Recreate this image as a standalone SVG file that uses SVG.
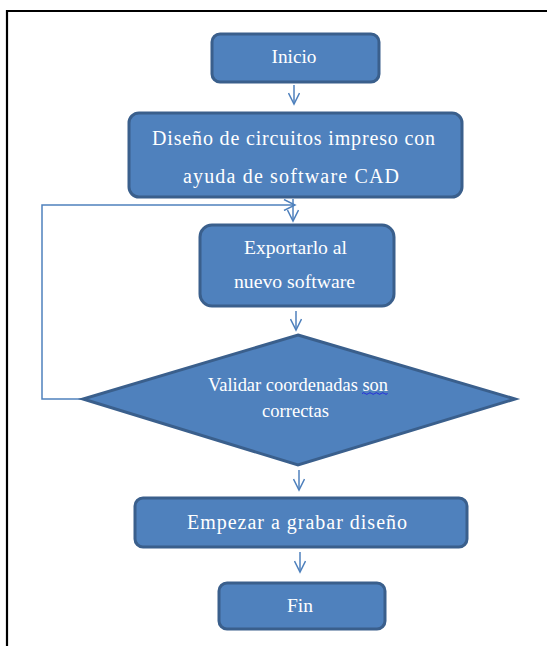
<svg xmlns="http://www.w3.org/2000/svg" width="547" height="646" viewBox="0 0 547 646">
<defs>
<style>
.node{fill:#4F81BD;stroke:#3A5F8C;stroke-width:3}
.t{font-family:"Liberation Serif","Times New Roman",serif;font-size:18px;fill:#FFFFFF;text-anchor:middle}
.big{font-size:20px}
.c{fill:none;stroke:#4F81BD;stroke-width:1.5}
</style>
<marker id="ah" viewBox="0 0 14 12" refX="12" refY="6" markerWidth="14" markerHeight="12" markerUnits="userSpaceOnUse" orient="auto">
<path d="M1,0.5 L12,6 L1,11.5" fill="none" stroke="#4F81BD" stroke-width="1.5"/>
</marker>
</defs>
<rect width="547" height="646" fill="#FFFFFF"/>
<polyline points="7,646 7,11 547,11" fill="none" stroke="#000000" stroke-width="2.2"/>
<g id="connectors">
<line class="c" x1="294" y1="85" x2="294" y2="104" marker-end="url(#ah)"/>
<line class="c" x1="293" y1="199" x2="293" y2="221" marker-end="url(#ah)"/>
<polyline class="c" points="83,399 42,399 42,205 295,205" marker-end="url(#ah)"/>
<line class="c" x1="296" y1="311" x2="296" y2="330" marker-end="url(#ah)"/>
<line class="c" x1="299" y1="470" x2="299" y2="490" marker-end="url(#ah)"/>
<line class="c" x1="300" y1="552" x2="300" y2="572" marker-end="url(#ah)"/>
</g>
<g id="inicio">
<rect class="node" x="212" y="34" width="167" height="48" rx="8"/>
<text class="t" x="294" y="63" textLength="45" lengthAdjust="spacingAndGlyphs">Inicio</text>
</g>
<g id="diseno">
<rect class="node" x="129" y="113" width="333" height="84" rx="10"/>
<text class="t big" x="293.5" y="145" textLength="283" lengthAdjust="spacing">Diseño de circuitos impreso con</text>
<text class="t big" x="291" y="183" textLength="216" lengthAdjust="spacing">ayuda de software CAD</text>
</g>
<g id="exportar">
<rect class="node" x="200" y="225" width="194" height="81" rx="12"/>
<text class="t" x="295.5" y="254" textLength="103" lengthAdjust="spacingAndGlyphs">Exportarlo al</text>
<text class="t" x="294.5" y="288" textLength="121" lengthAdjust="spacingAndGlyphs">nuevo software</text>
</g>
<g id="validar">
<polygon class="node" points="298,335 515,399 298,465 83,399"/>
<text class="t" x="298" y="391" textLength="180" lengthAdjust="spacingAndGlyphs">Validar coordenadas son</text>
<text class="t" x="295.5" y="417" textLength="67" lengthAdjust="spacingAndGlyphs">correctas</text>
<path d="M362,393.5 q1.6,-1.6 3.2,0 t3.2,0 t3.2,0 t3.2,0 t3.2,0 t3.2,0 t3.2,0 t3.2,0" fill="none" stroke="#1F1FE0" stroke-width="0.9"/>
</g>
<g id="grabar">
<rect class="node" x="135" y="498" width="332" height="49" rx="8"/>
<text class="t big" x="297" y="529" textLength="220" lengthAdjust="spacing">Empezar a grabar diseño</text>
</g>
<g id="fin">
<rect class="node" x="219" y="583" width="166" height="46" rx="8"/>
<text class="t" x="300" y="612" textLength="26" lengthAdjust="spacingAndGlyphs">Fin</text>
</g>
</svg>
